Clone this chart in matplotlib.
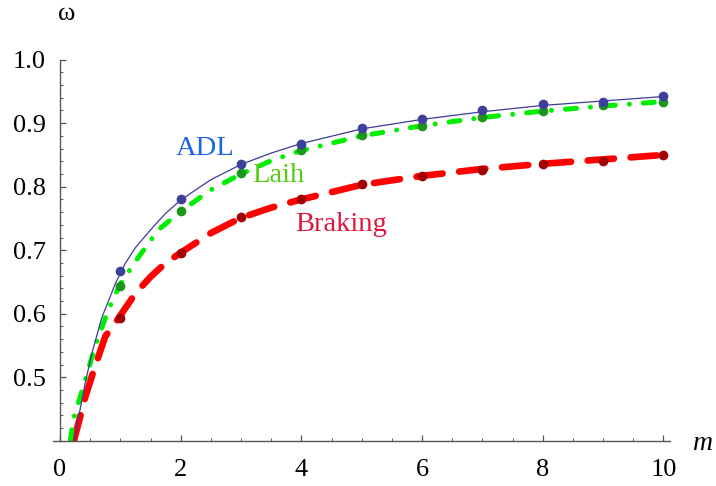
import matplotlib
matplotlib.use("Agg")
import matplotlib.pyplot as plt
from matplotlib.ticker import MultipleLocator, FixedLocator

plt.rcParams['font.family'] = ['Liberation Serif', 'DejaVu Serif']

# Sampled points (integer m)
m_pts = [1, 2, 3, 4, 5, 6, 7, 8, 9, 10]
adl_pts = [0.668, 0.780, 0.836, 0.868, 0.892, 0.906, 0.920, 0.930, 0.934, 0.943]
laih_pts = [0.644, 0.761, 0.821, 0.858, 0.881, 0.896, 0.910, 0.919, 0.929, 0.934]
brak_pts = [0.593, 0.695, 0.752, 0.780, 0.804, 0.817, 0.827, 0.835, 0.8405, 0.850]

# Curves
adl_m = [0.24, 0.31, 0.42, 0.53, 0.69, 0.92, 1.08, 1.25, 1.5, 1.75, 2, 2.5, 3, 3.5,
         4, 5, 6, 7, 8, 9, 10]
adl_w = [0.400, 0.438, 0.492, 0.538, 0.593, 0.648, 0.679, 0.704, 0.732, 0.758,
         0.779, 0.811, 0.835, 0.853, 0.868, 0.891, 0.906, 0.918, 0.928, 0.935, 0.942]
laih_m = [0.17, 0.22, 0.42, 0.58, 0.80, 0.99, 1.27, 1.63, 2, 2.5, 3, 3.5, 4, 5, 6,
          7, 8, 9, 10]
laih_w = [0.400, 0.433, 0.496, 0.548, 0.606, 0.645, 0.685, 0.732, 0.761, 0.795,
          0.820, 0.841, 0.857, 0.880, 0.896, 0.909, 0.919, 0.927, 0.934]
brak_m = [0.23, 0.42, 0.56, 0.75, 0.97, 1.25, 1.5, 1.74, 2, 2.5, 3, 3.5, 4, 5, 6,
          7, 8, 9, 10]
brak_w = [0.400, 0.469, 0.511, 0.564, 0.593, 0.632, 0.658, 0.679, 0.696, 0.727,
          0.751, 0.767, 0.780, 0.803, 0.817, 0.828, 0.836, 0.843, 0.850]

x_ticks = [0, 2, 4, 6, 8, 10]
y_ticks = [0.5, 0.6, 0.7, 0.8, 0.9, 1.0]

fig = plt.figure(figsize=(7.16, 4.86), dpi=100)
ax = fig.add_axes([53 / 716, (486 - 440.7) / 486, 617 / 716, (440.7 - 59.7) / 486])
ax.set_xlim(-0.116, 10.11)
ax.set_ylim(0.4, 1.0)

# curves
ax.plot(brak_m, brak_w, color='#ff0000', lw=4.8, dashes=(3.95, 2.5),
        dash_capstyle='round', solid_capstyle='round', zorder=2)
ax.plot(laih_m, laih_w, color='#00ee00', lw=3.6, dashes=(2.2, 2.8, 0.01, 2.8),
        dash_capstyle='round', zorder=2)
ax.plot(adl_m, adl_w, color='#3c3c9a', lw=0.9, zorder=3)

# points
ax.plot(m_pts, brak_pts, 'o', color='#a00000', ms=7, mec='none', zorder=4, clip_on=False)
ax.plot(m_pts, laih_pts, 'o', color='#1a961a', ms=7, mec='none', zorder=4, clip_on=False)
ax.plot(m_pts, adl_pts, 'o', color='#3f3f9c', ms=7, mec='none', zorder=5, clip_on=False)

# labels on curves
ax.text(2.41, 0.850, 'ADL', color='#1a66e6', fontsize=20.5, ha='center', va='baseline')
ax.text(3.62, 0.807, 'Laih', color='#55cc11', fontsize=20.5, ha='center', va='baseline')
ax.text(4.66, 0.730, 'Braking', color='#e0143c', fontsize=20.5, ha='center', va='baseline')

# axes styling
for s in ['top', 'right']:
    ax.spines[s].set_visible(False)
ax.spines['left'].set_position(('data', 0))
ax.spines['bottom'].set_position(('data', 0.4))
for s in ['left', 'bottom']:
    ax.spines[s].set_color('#555555')
    ax.spines[s].set_linewidth(1.0)

ax.xaxis.set_major_locator(FixedLocator(x_ticks))
ax.set_xticklabels([str(v) for v in x_ticks])
ax.xaxis.set_minor_locator(MultipleLocator(0.5))
ax.yaxis.set_major_locator(FixedLocator(y_ticks))
ax.set_yticklabels(['%.1f' % v for v in y_ticks])
ax.yaxis.set_minor_locator(MultipleLocator(0.02))
ax.tick_params(which='major', direction='in', length=4.5, width=0.9, color='#555555',
               labelsize=19, pad=13)
ax.tick_params(which='minor', direction='in', length=2.5, width=0.7, color='#555555')
ax.tick_params(axis='y', which='major', pad=10)

ax.text(10.65, 0.3854, 'm', fontsize=20, style='italic', ha='center', va='baseline',
        clip_on=False)
ax.text(0.11, 1.0625, 'ω', fontsize=19, ha='center', va='baseline', clip_on=False)

fig.savefig('out.png', dpi=100)
